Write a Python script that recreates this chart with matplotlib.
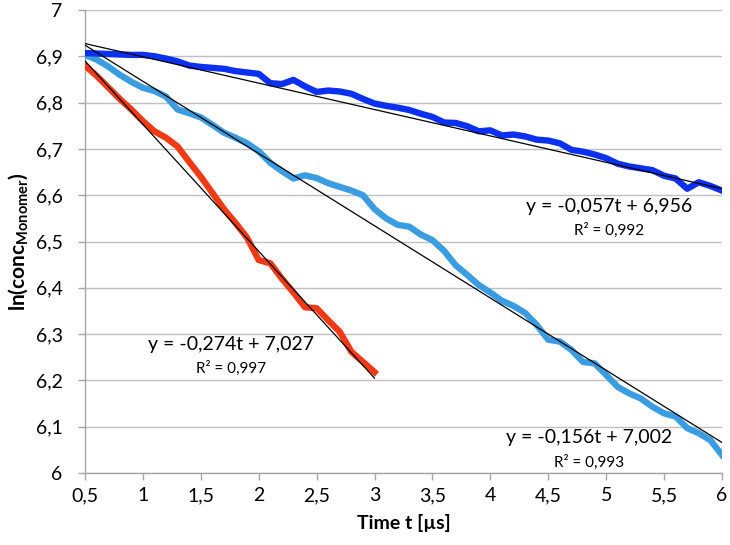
import numpy as np
import matplotlib
matplotlib.use("Agg")
import matplotlib.pyplot as plt
from matplotlib.ticker import FuncFormatter, MultipleLocator

plt.rcParams['font.family'] = ['Lato', 'DejaVu Sans']
plt.rcParams['mathtext.fontset'] = 'custom'
plt.rcParams['mathtext.rm'] = 'Lato'
plt.rcParams['mathtext.bf'] = 'Lato:bold'

# ---- data ----
t_red = [0.5, 0.6, 0.7, 0.8, 0.9, 1.0, 1.1, 1.2, 1.3, 1.4, 1.5, 1.6, 1.7, 1.8, 1.9,
         2.0, 2.1, 2.2, 2.3, 2.4, 2.5, 2.6, 2.7, 2.8, 2.9, 3.0]
y_red = [6.880, 6.858, 6.833, 6.808, 6.785, 6.760, 6.738, 6.724, 6.705, 6.672, 6.640,
         6.605, 6.570, 6.540, 6.508, 6.460, 6.453, 6.420, 6.390, 6.358, 6.356, 6.330,
         6.305, 6.262, 6.240, 6.218]

t_blue = [0.5, 0.6, 0.7, 0.8, 0.9, 1.0, 1.1, 1.2, 1.3, 1.4, 1.5, 1.6, 1.7, 1.8, 1.9,
          2.0, 2.1, 2.2, 2.3, 2.4, 2.5, 2.6, 2.7, 2.8, 2.9, 3.0, 3.1, 3.2, 3.3, 3.4,
          3.5, 3.6, 3.7, 3.8, 3.9, 4.0, 4.1, 4.2, 4.3, 4.4, 4.5, 4.6, 4.7, 4.8, 4.9,
          5.0, 5.1, 5.2, 5.3, 5.4, 5.5, 5.6, 5.7, 5.8, 5.9, 6.0]
y_dark = [6.907, 6.906, 6.905, 6.904, 6.903, 6.903, 6.900, 6.895, 6.889, 6.880, 6.877,
          6.875, 6.873, 6.868, 6.865, 6.862, 6.842, 6.840, 6.849, 6.835, 6.823, 6.826,
          6.824, 6.819, 6.808, 6.798, 6.793, 6.789, 6.784, 6.776, 6.769, 6.757, 6.756,
          6.749, 6.738, 6.740, 6.729, 6.731, 6.727, 6.720, 6.718, 6.712, 6.698, 6.694,
          6.688, 6.680, 6.668, 6.662, 6.658, 6.654, 6.642, 6.636, 6.614, 6.628, 6.620,
          6.610]
y_light = [6.903, 6.893, 6.878, 6.860, 6.845, 6.832, 6.825, 6.813, 6.785, 6.777, 6.768,
           6.752, 6.735, 6.724, 6.712, 6.695, 6.670, 6.652, 6.636, 6.643, 6.637, 6.626,
           6.618, 6.610, 6.600, 6.570, 6.550, 6.536, 6.532, 6.515, 6.503, 6.480, 6.449,
           6.428, 6.406, 6.390, 6.372, 6.361, 6.346, 6.320, 6.288, 6.284, 6.266, 6.240,
           6.237, 6.212, 6.186, 6.172, 6.161, 6.143, 6.129, 6.122, 6.097, 6.086, 6.071,
           6.039]

# regression coefficients as printed
fits = [(-0.274, 7.027, 0.997), (-0.156, 7.002, 0.993), (-0.057, 6.956, 0.992)]
eq_labels = ["y = -0,274t + 7,027", "y = -0,156t + 7,002", "y = -0,057t + 6,956"]
r2_labels = ["R² = 0,997", "R² = 0,993", "R² = 0,992"]

fig = plt.figure(figsize=(7.3, 5.45), dpi=100)
ax = fig.add_axes([0.1164, 0.132, 0.8726, 0.8497])

c_red = '#f03a16'
c_dark = '#0b30f0'
c_light = '#3a9de2'

ax.plot(t_blue, y_light, color=c_light, lw=4.6, solid_joinstyle='round', zorder=3)
ax.plot(t_blue, y_dark, color=c_dark, lw=4.6, solid_joinstyle='round', zorder=3)
ax.plot(t_red, y_red, color=c_red, lw=4.6, solid_joinstyle='round', zorder=3)

ranges = [(t_red[0], t_red[-1]), (t_blue[0], t_blue[-1]), (t_blue[0], t_blue[-1])]
for (m, b, _), (x0, x1) in zip(fits, ranges):
    xs = np.array([x0, x1])
    ax.plot(xs, m * xs + b, color='black', lw=0.9, zorder=4)

# annotations
ann_pos = [((1.76, 6.278), (1.76, 6.227)),
           ((4.85, 6.076), (4.85, 6.024)),
           ((5.025, 6.575), (5.025, 6.525))]
for (p1, p2), e, r in zip(ann_pos, eq_labels, r2_labels):
    ax.text(p1[0], p1[1], e, ha='center', va='center', fontsize=14, zorder=5)
    ax.text(p2[0], p2[1], r, ha='center', va='center', fontsize=11, zorder=5)

ax.set_xlim(0.5, 6)
ax.set_ylim(6, 7)
ax.xaxis.set_major_locator(MultipleLocator(0.5))
ax.yaxis.set_major_locator(MultipleLocator(0.1))

def comma(v, pos):
    s = f"{v:.1f}".rstrip('0').rstrip('.')
    return s.replace('.', ',')

ax.xaxis.set_major_formatter(FuncFormatter(comma))
ax.yaxis.set_major_formatter(FuncFormatter(comma))

ax.grid(axis='y', color='#bfbfbf', lw=1.0)
ax.set_axisbelow(True)
for s in ['top', 'right']:
    ax.spines[s].set_visible(False)
for s in ['left', 'bottom']:
    ax.spines[s].set_color('#a6a6a6')
    ax.spines[s].set_linewidth(1.0)
ax.tick_params(axis='both', colors='#a6a6a6', length=5, width=1, labelsize=14,
               labelcolor='black', direction='out')
ax.tick_params(axis='x', pad=5)
ax.tick_params(axis='y', pad=11)

ax.set_xlabel('Time t [µs]', fontsize=14, fontweight='bold', labelpad=7)
ax.set_ylabel(r'$\mathbf{ln(conc_{Monomer})}$', fontsize=15, labelpad=4)

fig.savefig('out.png', dpi=100)
